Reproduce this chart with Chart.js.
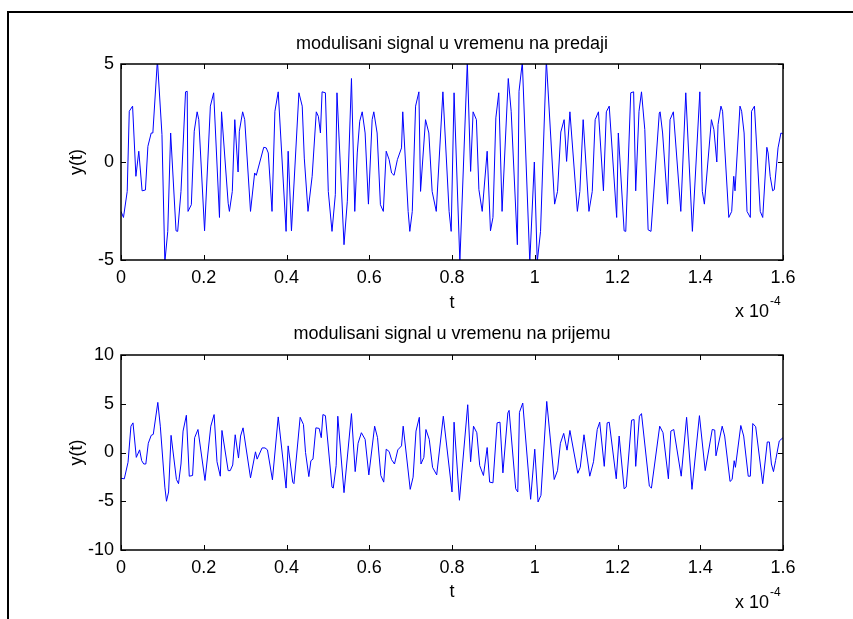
<!DOCTYPE html>
<html>
<head>
<meta charset="utf-8">
<title>modulisani signal</title>
<script src="https://cdn.jsdelivr.net/npm/chart.js@4.4.1/dist/chart.umd.min.js"></script>
<style>
    html, body { margin: 0; padding: 0; background: #fff; }
    #fig { position: relative; width: 853px; height: 619px; overflow: hidden; background: #fff; }
    #fig canvas { position: absolute; left: 0; top: 0; }
    #frame { position: absolute; left: 7px; top: 11px; width: 900px; height: 700px; border-left: 2px solid #000; border-top: 2px solid #000; }
</style>
</head>
<body>
<div id="fig">
    <div id="frame"></div>
    <canvas id="txChart" width="853" height="619"></canvas>
    <canvas id="rxChart" width="853" height="619"></canvas>
</div>
<script>
// time axis is in units of 1e-4 s (the "x 10^-4" under the axis)
const tTx = [0.000,0.006,0.015,0.020,0.028,0.036,0.043,0.051,0.059,0.065,
    0.073,0.077,0.088,0.099,0.106,0.113,0.120,0.133,0.137,0.145,
    0.156,0.160,0.162,0.170,0.177,0.184,0.188,0.202,0.216,0.224,
    0.238,0.243,0.259,0.262,0.269,0.275,0.283,0.286,0.294,0.299,
    0.313,0.323,0.327,0.345,0.351,0.356,0.365,0.372,0.380,0.399,
    0.404,0.412,0.430,0.438,0.443,0.452,0.462,0.472,0.477,0.482,
    0.486,0.494,0.501,0.510,0.518,0.522,0.539,0.547,0.557,0.565,
    0.571,0.577,0.583,0.590,0.598,0.607,0.611,0.619,0.627,0.634,
    0.641,0.648,0.654,0.660,0.668,0.678,0.681,0.694,0.698,0.704,
    0.712,0.720,0.724,0.736,0.744,0.752,0.762,0.778,0.793,0.798,
    0.805,0.819,0.837,0.845,0.851,0.859,0.865,0.873,0.885,0.893,
    0.899,0.906,0.913,0.921,0.936,0.943,0.958,0.962,0.970,0.988,
    0.999,1.006,1.014,1.028,1.048,1.055,1.063,1.071,1.077,1.085,
    1.103,1.109,1.117,1.131,1.139,1.146,1.154,1.166,1.173,1.180,
    1.198,1.202,1.216,1.220,1.232,1.239,1.244,1.252,1.258,1.266,
    1.274,1.281,1.301,1.303,1.309,1.321,1.327,1.335,1.353,1.365,
    1.381,1.399,1.405,1.410,1.427,1.433,1.440,1.443,1.450,1.454,
    1.469,1.476,1.481,1.484,1.496,1.500,1.506,1.513,1.521,1.524,
    1.531,1.545,1.551,1.561,1.564,1.569,1.575,1.579,1.585,1.588,
    1.595,1.600];

const yTx = [-2.52,-2.83,-1.50,2.59,2.85,-0.73,0.55,-1.47,-1.43,0.80,
    1.48,1.48,5.20,1.40,-5.10,-3.54,1.48,-3.51,-3.54,-1.50,
    3.58,3.61,-2.52,-2.18,1.57,2.56,2.16,-3.51,2.85,3.53,
    -2.83,2.56,-2.10,-2.52,-1.50,2.16,-0.51,1.57,2.56,2.16,
    -2.52,-0.56,-0.68,0.75,0.72,0.46,-2.52,2.59,3.58,-3.54,
    0.55,-3.51,3.53,2.85,0.20,-2.52,-0.73,2.56,2.33,1.48,
    3.58,3.53,-1.50,-3.54,-1.67,3.53,-4.22,-2.00,4.26,-2.52,
    0.46,2.08,2.56,1.48,-2.15,2.16,2.56,1.48,-2.18,-2.52,
    0.55,0.12,-0.56,-0.68,0.12,0.72,2.56,-2.52,-3.54,-2.52,
    2.85,3.58,-1.50,2.16,1.48,-1.50,-2.52,3.58,-2.52,-3.54,
    3.53,-5.10,5.10,-0.48,2.56,2.16,-1.41,-2.52,0.55,-3.51,
    -2.83,2.25,3.53,-2.52,4.26,2.59,-4.22,3.61,5.10,-5.10,
    0.00,-5.10,-3.54,5.20,-2.15,-1.50,1.53,2.16,0.03,2.56,
    -2.52,-1.50,2.16,-2.52,-1.50,2.16,2.56,-1.47,2.56,2.85,
    -2.83,1.48,-3.51,-3.54,3.53,3.58,-1.47,2.59,3.58,1.65,
    -3.46,-3.54,2.50,2.56,1.48,-2.15,2.16,2.56,-2.52,3.53,
    -3.54,3.58,-1.50,-2.15,2.16,1.65,0.00,1.91,2.85,2.59,
    -2.83,-2.52,-0.73,-1.47,2.85,2.59,1.48,-2.52,-2.83,2.59,
    2.85,-2.52,-2.83,0.75,0.46,-0.73,-1.47,-1.41,0.00,0.72,
    1.48,1.43];

const tRx = [0.000,0.008,0.017,0.024,0.029,0.037,0.045,0.050,0.055,0.060,
    0.066,0.073,0.078,0.089,0.095,0.106,0.110,0.115,0.121,0.134,
    0.139,0.145,0.150,0.158,0.165,0.173,0.178,0.186,0.203,0.217,
    0.225,0.232,0.240,0.244,0.259,0.264,0.270,0.276,0.284,0.289,
    0.295,0.313,0.325,0.329,0.341,0.348,0.354,0.366,0.380,0.399,
    0.404,0.415,0.418,0.433,0.441,0.446,0.454,0.459,0.464,0.471,
    0.479,0.484,0.488,0.494,0.510,0.513,0.520,0.524,0.539,0.557,
    0.566,0.573,0.581,0.590,0.599,0.613,0.620,0.628,0.635,0.641,
    0.648,0.654,0.661,0.669,0.678,0.682,0.699,0.706,0.713,0.721,
    0.725,0.732,0.737,0.745,0.753,0.763,0.779,0.800,0.805,0.818,
    0.838,0.845,0.852,0.860,0.867,0.876,0.885,0.891,0.899,0.909,
    0.916,0.923,0.935,0.938,0.954,0.959,0.963,0.971,0.990,1.000,
    1.008,1.015,1.029,1.047,1.055,1.062,1.070,1.078,1.085,1.104,
    1.110,1.119,1.133,1.142,1.151,1.157,1.168,1.175,1.180,1.197,
    1.204,1.216,1.221,1.234,1.240,1.244,1.253,1.258,1.277,1.282,
    1.302,1.310,1.323,1.329,1.336,1.354,1.367,1.380,1.398,1.412,
    1.429,1.435,1.438,1.453,1.459,1.472,1.477,1.482,1.485,1.498,
    1.505,1.516,1.521,1.527,1.534,1.551,1.562,1.567,1.572,1.577,
    1.582,1.591,1.600];

const yRx = [-2.64,-2.70,-1.00,2.70,3.04,-0.50,0.27,-0.84,-1.18,-1.18,
    0.95,1.76,1.86,5.14,2.70,-3.55,-5.00,-4.05,1.76,-2.77,
    -3.20,-1.18,2.20,3.82,-2.43,-2.36,1.52,2.36,-2.87,2.70,
    3.89,-0.95,-2.43,2.26,-1.86,-1.86,-1.28,1.82,-0.57,1.69,
    2.53,-2.60,0.07,-0.68,0.47,0.47,0.27,-2.80,3.65,-3.65,
    0.68,-3.04,-3.20,3.61,2.87,0.00,-2.47,-0.84,-0.68,2.53,
    2.47,1.52,3.89,3.78,-3.55,-3.65,-1.35,3.72,-4.12,3.99,
    -1.96,0.95,2.03,1.35,-2.30,2.70,1.52,-2.36,-3.04,0.34,
    0.10,-0.74,-1.18,0.27,0.68,2.70,-3.78,-2.53,2.20,3.61,
    -1.18,-0.50,2.36,1.35,-1.52,-2.30,3.72,-4.05,3.11,-4.90,
    4.90,-0.95,2.70,2.03,-1.35,-2.36,0.51,-3.04,-3.11,3.04,
    3.11,-2.09,4.05,4.32,-3.72,-4.05,4.12,5.07,-4.80,0.34,
    -5.07,-4.39,5.24,-2.77,-1.86,0.95,1.96,0.24,2.26,-2.13,
    -1.52,1.82,-2.43,-0.95,2.36,3.11,-1.42,3.04,3.11,-2.70,
    1.69,-3.72,-3.55,3.31,3.38,-1.42,3.72,3.99,-3.45,-3.65,
    2.70,2.03,-2.70,2.20,2.36,-2.43,3.61,-3.78,3.78,-1.86,
    2.36,2.30,-0.34,2.70,1.69,-2.97,-2.77,-0.84,-1.52,2.77,
    1.69,-2.43,-2.43,2.97,2.64,-3.20,1.08,1.08,-1.18,-1.96,
    -0.84,1.18,1.52];

const xTicks = { min: 0, max: 1.6, step: 0.2 };
const txRange = { min: -5, max: 5, step: 5 };
const rxRange = { min: -10, max: 10, step: 5 };

const FONT = "'Liberation Sans', Arial, Helvetica, sans-serif";
Chart.defaults.font.family = FONT;
Chart.defaults.color = '#000';

// MATLAB-style box: frame on all four sides, ticks pointing inward, exponent label
const matlabAxes = {
    id: 'matlabAxes',
    afterDatasetsDraw(chart, args, opts) {
        const { ctx, chartArea: a, scales } = chart;
        const len = 5;
        ctx.save();
        ctx.strokeStyle = '#000';
        ctx.lineWidth = 1;
        ctx.beginPath();
        scales.x.ticks.forEach(t => {
            const px = Math.round(scales.x.getPixelForValue(t.value)) + 0.5;
            ctx.moveTo(px, a.bottom); ctx.lineTo(px, a.bottom - len);
            ctx.moveTo(px, a.top); ctx.lineTo(px, a.top + len);
        });
        scales.y.ticks.forEach(t => {
            const py = Math.round(scales.y.getPixelForValue(t.value)) + 0.5;
            ctx.moveTo(a.left, py); ctx.lineTo(a.left + len, py);
            ctx.moveTo(a.right, py); ctx.lineTo(a.right - len, py);
        });
        ctx.stroke();
        ctx.lineWidth = 1.5;
        ctx.strokeRect(a.left, a.top, a.right - a.left, a.bottom - a.top);

        ctx.fillStyle = '#000';
        ctx.textBaseline = 'middle';
        ctx.textAlign = 'right';
        ctx.font = '18px ' + FONT;
        ctx.fillText('x 10', opts.expX, opts.expY);
        ctx.textAlign = 'left';
        ctx.font = '12px ' + FONT;
        ctx.fillText('-4', opts.expX + 1, opts.expY - 10);
        ctx.restore();
    }
};

// MATLAB prints 1 rather than 1.0
const fmtTick = v => String(Math.round(v * 10) / 10);

function buildChart(id, cfg) {
    const tickFont = { family: FONT, size: 18 };
    return new Chart(document.getElementById(id), {
        type: 'line',
        data: {
            datasets: [{
                data: cfg.t.map((t, i) => ({ x: t, y: cfg.y[i] })),
                borderColor: '#0000ff',
                borderWidth: 1,
                pointRadius: 0,
                tension: 0,
                fill: false
            }]
        },
        options: {
            responsive: false,
            animation: false,
            events: [],
            layout: { padding: cfg.padding },
            plugins: {
                legend: { display: false },
                tooltip: { enabled: false },
                title: {
                    display: true,
                    text: cfg.title,
                    color: '#000',
                    fullSize: false,
                    font: { family: FONT, size: 18, weight: 'normal' },
                    padding: cfg.titlePadding
                },
                matlabAxes: { expX: 769, expY: cfg.expY }
            },
            scales: {
                x: {
                    type: 'linear',
                    min: xTicks.min,
                    max: xTicks.max,
                    grid: { display: false, drawTicks: false },
                    border: { display: false },
                    ticks: { stepSize: xTicks.step, color: '#000', font: tickFont, padding: 7, callback: fmtTick },
                    title: { display: true, text: 't', color: '#000', font: tickFont, padding: { top: 0, bottom: cfg.xTitlePad } },
                    afterFit: s => { s.height = cfg.xAxisHeight; }
                },
                y: {
                    min: cfg.range.min,
                    max: cfg.range.max,
                    grid: { display: false, drawTicks: false },
                    border: { display: false },
                    ticks: { stepSize: cfg.range.step, color: '#000', font: tickFont, padding: 7 },
                    title: { display: true, text: 'y(t)', color: '#000', font: tickFont, padding: { top: 66, bottom: 0 } },
                    afterFit: s => { s.width = 121; }
                }
            }
        },
        plugins: [matlabAxes]
    });
}

buildChart('txChart', {
    t: tTx, y: yTx, range: txRange,
    title: 'modulisani signal u vremenu na predaji',
    padding: { top: 0, right: 70, bottom: 303, left: 0 },
    titlePadding: { top: 33.2, bottom: 9.2 },
    xAxisHeight: 56, xTitlePad: 2.2, expY: 312
});

buildChart('rxChart', {
    t: tRx, y: yRx, range: rxRange,
    title: 'modulisani signal u vremenu na prijemu',
    padding: { top: 310, right: 70, bottom: 16, left: 0 },
    titlePadding: { top: 13.2, bottom: 10.2 },
    xAxisHeight: 53, xTitlePad: 0, expY: 603
});
</script>
</body>
</html>
